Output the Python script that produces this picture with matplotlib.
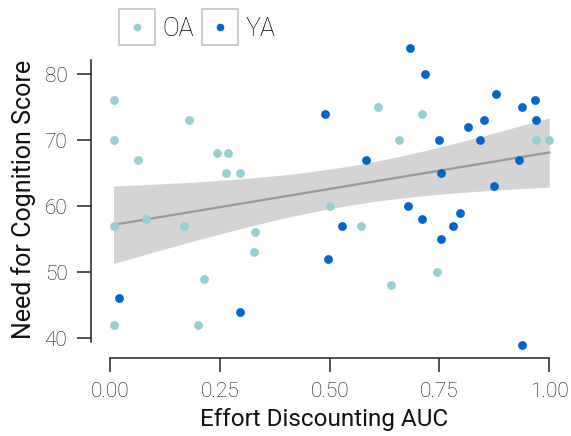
import matplotlib
matplotlib.use("Agg")
import matplotlib.pyplot as plt
from matplotlib.lines import Line2D
import numpy as np

# older adults
oa_auc = [0.008, 0.18, 0.008, 0.063, 0.244, 0.268, 0.264, 0.296, 0.50, 0.083,
          0.611, 0.71, 0.658, 0.970, 1.0, 0.008, 0.169, 0.331, 0.327, 0.213,
          0.008, 0.201, 0.572, 0.745, 0.639]
oa_nfc = [76, 73, 70, 67, 68, 68, 65, 65, 60, 58,
          75, 74, 70, 70, 70, 57, 57, 56, 53, 49,
          42, 42, 57, 50, 48]

# younger adults
ya_auc = [0.489, 0.682, 0.718, 0.879, 0.938, 0.967, 0.851, 0.816, 0.970, 0.748,
          0.843, 0.583, 0.930, 0.753, 0.875, 0.678, 0.71, 0.797, 0.528, 0.497,
          0.02, 0.296, 0.780, 0.753, 0.938]
ya_nfc = [74, 84, 80, 77, 75, 76, 73, 72, 73, 70,
          70, 67, 67, 65, 63, 60, 58, 59, 57, 52,
          46, 44, 57, 55, 39]

groups = ["OA", "YA"]
colors = {"OA": "#96CFCF", "YA": "#0066CC"}
xticks = [0.0, 0.25, 0.5, 0.75, 1.0]
xticklabels = ["0.00", "0.25", "0.50", "0.75", "1.00"]
yticks = [40, 50, 60, 70, 80]

plt.rcParams['font.family'] = ['Roboto', 'DejaVu Sans']
plt.rcParams['font.weight'] = 'light'
txt = "#111111"

fig = plt.figure(figsize=(5.71, 4.36), dpi=100)
ax = fig.add_axes([0.1594, 0.1789, 0.8179, 0.727])

# linear fit over all participants with 95% CI band
x = np.array(oa_auc + ya_auc)
y = np.array(oa_nfc + ya_nfc, dtype=float)
n = len(x)
slope, intercept = np.polyfit(x, y, 1)
resid = y - (slope * x + intercept)
s = np.sqrt(np.sum(resid ** 2) / (n - 2))
sxx = np.sum((x - x.mean()) ** 2)
grid = np.linspace(x.min(), x.max(), 100)
fit = slope * grid + intercept
se = s * np.sqrt(1 / n + (grid - x.mean()) ** 2 / sxx)
t = 2.011
ax.fill_between(grid, fit - t * se, fit + t * se, color="#D4D4D4", lw=0, zorder=1)
ax.plot(grid, fit, color="#999999", lw=1.6, zorder=2)

ax.scatter(oa_auc, oa_nfc, s=40, color=colors["OA"], lw=0, zorder=3)
ax.scatter(ya_auc, ya_nfc, s=40, color=colors["YA"], lw=0, zorder=3)

ax.set_xlim(-0.0433, 1.02)
ax.set_ylim(36.97, 85)
ax.set_xticks(xticks)
ax.set_xticklabels(xticklabels)
ax.set_yticks(yticks)
ax.spines['top'].set_visible(False)
ax.spines['right'].set_visible(False)
ax.spines['bottom'].set_bounds(0, 1)
ax.spines['left'].set_bounds(39.4, 82.1)
for sp in ['left', 'bottom']:
    ax.spines[sp].set_linewidth(1.1)
    ax.spines[sp].set_color("#222222")
ax.tick_params(length=10, width=1.1, color="#222222", labelsize=15,
               labelcolor=txt, pad=7)

ax.set_xlabel("Effort Discounting AUC", fontsize=17.5, color=txt, labelpad=5)
ax.set_ylabel("Need for Cognition Score", fontsize=18, color=txt, labelpad=6)

# legend with each key in its own box
handles = []
for g in groups:
    box = Line2D([], [], marker='s', ls='', markersize=26,
                 markerfacecolor='white', markeredgecolor='#CCCCCC', markeredgewidth=1.4)
    dot = Line2D([], [], marker='o', ls='', markersize=5.5,
                 markerfacecolor=colors[g], markeredgewidth=0)
    handles.append((box, dot))
fig.legend(handles, groups, loc='upper left', bbox_to_anchor=(0.218, 0.961),
           ncol=2, frameon=False, fontsize=18, handlelength=1.0,
           handletextpad=0.5, columnspacing=0.58, borderaxespad=0, borderpad=0)

fig.savefig("out.png", dpi=100)
